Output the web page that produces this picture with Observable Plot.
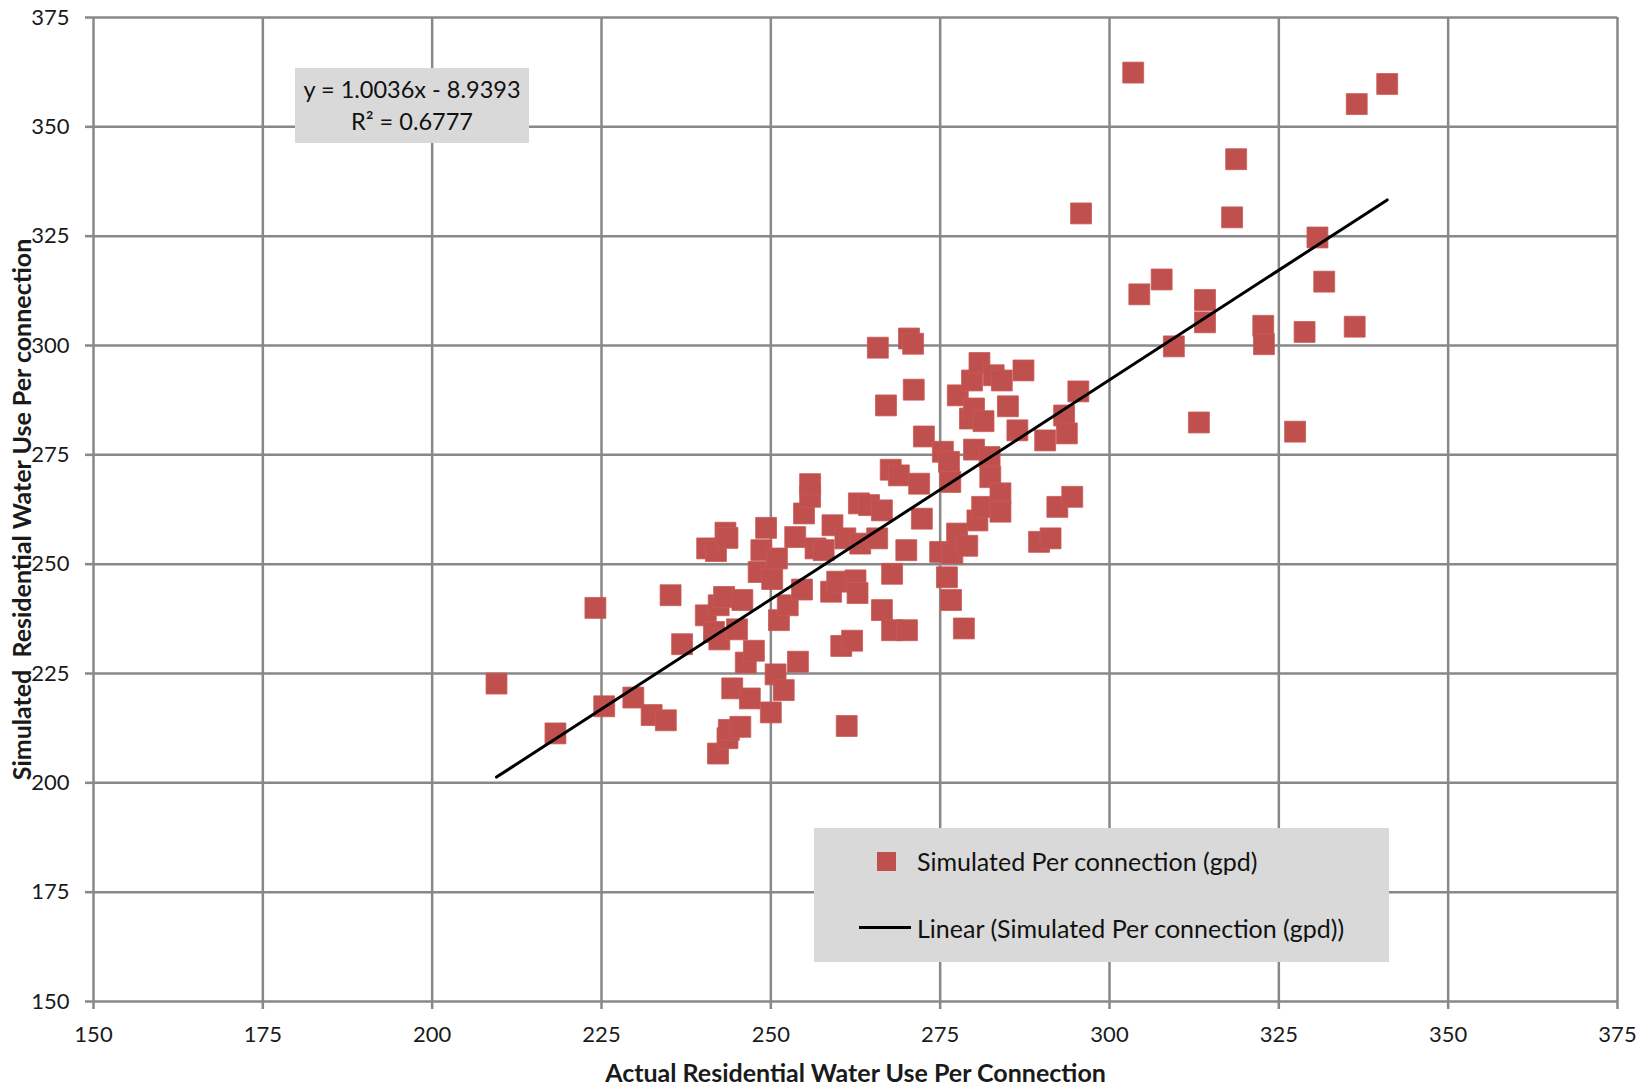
<!DOCTYPE html>
<html><head><meta charset="utf-8">
<script src="https://cdn.jsdelivr.net/npm/d3@7"></script>
<script src="https://cdn.jsdelivr.net/npm/@observablehq/plot@0.6"></script>
<style>
html,body{margin:0;padding:0;background:#fff;}
#wrap{position:relative;width:1652px;height:1089px;font-family:Lato,"Open Sans",sans-serif;color:#111;}
.box{position:absolute;background:#d9d9d9;}
#eq{left:295px;top:68px;width:234px;height:75px;text-align:center;font-size:23.5px;line-height:32px;padding-top:5px;box-sizing:border-box;}
#legend{left:814px;top:828px;width:575px;height:134px;font-size:25px;}
.lg-sq{position:absolute;left:63px;top:24px;width:19px;height:19px;}
.lg-ln{position:absolute;left:45px;top:98px;width:52px;height:3px;background:#000;}
.lg-t{position:absolute;left:103px;white-space:nowrap;line-height:30px;}
</style></head><body>
<div id="wrap"></div>
<script>
// Data
const actual = [209.5,218.2,224.1,225.4,229.7,232.4,234.5,235.2,236.9,240.4,240.6,241.6,241.9,242.2,242.3,242.4,243.1,243.3,243.6,243.6,
  243.8,244.3,245.0,245.5,245.8,246.3,246.9,247.5,248.2,248.6,249.3,250.0,250.2,250.7,250.9,251.2,251.9,252.5,253.6,254.0,
  254.6,254.9,255.8,255.8,256.6,257.8,258.9,259.1,259.8,260.4,261.0,261.2,262.0,262.5,262.8,263.0,263.2,264.5,265.7,265.8,
  266.4,266.4,267.0,267.7,267.9,267.9,268.9,270.0,270.1,270.4,271.0,271.1,271.9,272.3,272.6,275.0,275.4,276.0,276.3,276.5,
  276.6,276.8,277.5,277.6,278.5,279.0,279.4,279.7,280.0,280.0,280.5,280.8,281.2,281.4,282.3,282.4,282.9,283.9,283.9,284.1,
  285.0,286.4,287.3,289.6,290.5,291.3,292.3,293.3,293.7,294.5,295.4,295.8,303.5,304.4,307.7,309.5,313.2,314.1,314.1,318.1,
  318.7,322.7,322.8,327.4,328.8,330.7,331.7,336.2,336.5,341.0];
const simulated = [222.7,211.3,240.0,217.5,219.5,215.5,214.3,242.9,231.7,238.3,253.6,234.5,253.0,206.7,240.6,232.8,242.5,257.2,256.0,210.2,
  212.1,221.6,235.1,212.8,241.8,227.5,219.3,230.2,248.2,253.2,258.3,216.1,246.6,224.8,251.3,237.2,221.2,240.6,256.2,227.7,
  244.2,261.6,265.4,268.3,253.6,253.2,243.7,258.9,246.0,231.3,255.9,213.0,232.5,246.3,243.4,263.9,254.7,263.5,255.9,299.5,
  262.3,239.5,286.3,271.6,247.8,234.9,270.3,253.2,234.9,301.6,300.4,289.9,268.4,260.4,279.2,252.8,275.7,247.0,273.4,268.8,
  241.8,252.5,257.0,288.6,235.3,254.2,283.3,292.0,285.6,276.2,260.0,296.0,263.1,282.7,274.5,269.9,293.2,266.2,262.0,292.0,
  286.1,280.6,294.3,255.1,278.3,255.9,263.1,284.0,279.9,265.4,289.5,330.2,362.4,311.7,315.1,299.8,282.4,310.4,305.3,329.3,
  342.6,304.5,300.3,280.3,303.1,324.7,314.6,304.3,355.2,359.8];
const xTicks = [150,175,200,225,250,275,300,325,350,375];
const yTicks = [150,175,200,225,250,275,300,325,350,375];
const trendSlope = 1.0036;
const trendIntercept = -8.9393;
const equationText = "y = 1.0036x - 8.9393";
const r2Text = "R² = 0.6777";
const seriesName = "Simulated Per connection (gpd)";
const trendName = "Linear (Simulated Per connection (gpd))";
const xTitle = "Actual Residential Water Use Per Connection";
const yTitle = "Simulated  Residential Water Use Per connection";

const points = actual.map((a, i) => ({actual: a, simulated: simulated[i]}));
const xr = d3.extent(actual);
const trend = xr.map(x => ({x, y: trendSlope * x + trendIntercept}));

const red = "#c0504d";
const grid = "#888888";

const chart = Plot.plot({
  width: 1652,
  height: 1089,
  marginLeft: 93,
  marginRight: 35,
  marginTop: 17,
  marginBottom: 88,
  style: {fontFamily: "Lato, 'Open Sans', sans-serif", fontSize: "22px", color: "#1a1a1a", background: "#fff"},
  x: {domain: [150, 375]},
  y: {domain: [150, 375]},
  marks: [
    Plot.gridX(xTicks, {stroke: grid, strokeOpacity: 1, strokeWidth: 2.5}),
    Plot.gridY(yTicks, {stroke: grid, strokeOpacity: 1, strokeWidth: 2.5}),
    Plot.axisX(xTicks, {tickSize: 8, tickPadding: 17, stroke: grid, strokeWidth: 2.5, label: null, fontSize: 22}),
    Plot.axisY(yTicks, {tickSize: 8, tickPadding: 16, stroke: grid, strokeWidth: 2.5, label: null, fontSize: 22}),
    Plot.dot(points, {x: "actual", y: "simulated", symbol: "square", r: 11.8, fill: red, stroke: "#c85a57", strokeWidth: 0.8}),
    Plot.line(trend, {x: "x", y: "y", stroke: "#000", strokeWidth: 3}),
    Plot.text([xTitle], {frameAnchor: "bottom", dy: 80, textAnchor: "middle", fontWeight: "bold", fontSize: 25, fill: "#1a1a1a"}),
    Plot.text([yTitle], {frameAnchor: "left", dx: -71, rotate: -90, textAnchor: "middle", fontWeight: "bold", fontSize: 25, fill: "#1a1a1a"})
  ]
});

const wrap = document.getElementById("wrap");
wrap.appendChild(chart);

const eq = document.createElement("div");
eq.className = "box";
eq.id = "eq";
eq.innerHTML = `<div>${equationText}</div><div>${r2Text}</div>`;
wrap.appendChild(eq);

const lg = document.createElement("div");
lg.className = "box";
lg.id = "legend";
lg.innerHTML = `<div class="lg-sq" style="background:${red}"></div>
<div class="lg-t" style="top:18px">${seriesName}</div>
<div class="lg-ln"></div>
<div class="lg-t" style="top:85px">${trendName}</div>`;
wrap.appendChild(lg);
</script>
</body></html>
